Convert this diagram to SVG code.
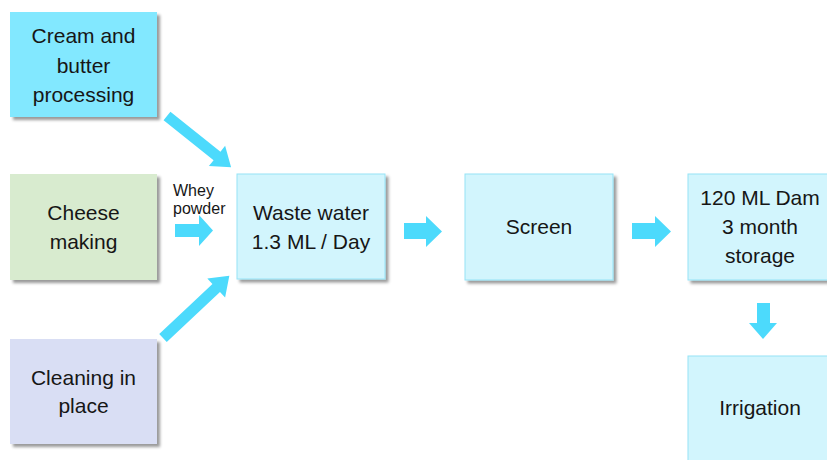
<svg xmlns="http://www.w3.org/2000/svg" width="827" height="460" viewBox="0 0 827 460">
<style>
.box{filter:url(#sh)}
.t{font-family:"Liberation Sans",Arial,sans-serif;font-size:21px;fill:#161616;text-anchor:middle}
.s{font-family:"Liberation Sans",Arial,sans-serif;font-size:16px;fill:#161616}
.lt{fill:#D2F5FD;stroke:#95E3F6;stroke-width:1}
.arr{fill:#4CDAFC}
</style>
<defs>
<filter id="sh" x="-10%" y="-10%" width="130%" height="130%">
<feDropShadow dx="3" dy="3" stdDeviation="1.8" flood-color="#000" flood-opacity="0.4"/>
</filter>
</defs>
<rect width="827" height="460" fill="#fff"/>
<g id="cream">
<rect class="box" x="10" y="12" width="147" height="105" fill="#82E8FF"/>
<text class="t" x="83.5" y="43">Cream and</text>
<text class="t" x="83.5" y="73">butter</text>
<text class="t" x="83.5" y="102">processing</text>
</g>
<g id="cheese">
<rect class="box" x="10" y="174" width="147" height="106" fill="#D8EBCF"/>
<text class="t" x="83.5" y="220">Cheese</text>
<text class="t" x="83.5" y="249">making</text>
</g>
<g id="cleaning">
<rect class="box" x="10" y="339" width="147" height="105" fill="#D9DEF4"/>
<text class="t" x="83.5" y="385">Cleaning in</text>
<text class="t" x="83.5" y="413">place</text>
</g>
<g id="waste">
<rect class="box lt" x="237" y="174" width="148" height="105"/>
<text class="t" x="311" y="220">Waste water</text>
<text class="t" x="311" y="249">1.3 ML / Day</text>
</g>
<g id="screen">
<rect class="box lt" x="465" y="174" width="148" height="106"/>
<text class="t" x="539" y="234">Screen</text>
</g>
<g id="dam">
<rect class="box lt" x="688" y="174" width="146" height="106"/>
<text class="t" x="760" y="205">120 ML Dam</text>
<text class="t" x="760" y="234">3 month</text>
<text class="t" x="760" y="263">storage</text>
</g>
<g id="irrigation">
<rect class="box lt" x="688" y="356" width="146" height="120"/>
<text class="t" x="760" y="415">Irrigation</text>
</g>
<g id="connectors">
<path class="arr" transform="translate(167,116) rotate(38.6)" d="M0,-5.5 H64 V-13 L82,0 L64,13 V5.5 H0 Z"/>
<path class="arr" transform="translate(163,338) rotate(-43.2)" d="M0,-5.5 H73 V-13 L91,0 L73,13 V5.5 H0 Z"/>
<path class="arr" d="M175,224 H199 V215 L213,230.5 L199,246 V237 H175 Z"/>
<text class="s" x="173" y="196">Whey</text>
<text class="s" x="173" y="214">powder</text>
<path class="arr" d="M404,223 H426 V216 L442,231.5 L426,247 V239 H404 Z"/>
<path class="arr" d="M632,223 H655 V216 L671,231.5 L655,247 V239 H632 Z"/>
<path class="arr" d="M757,303 H770 V323 H777 L763,339 L749,323 H757 Z"/>
</g>
</svg>
